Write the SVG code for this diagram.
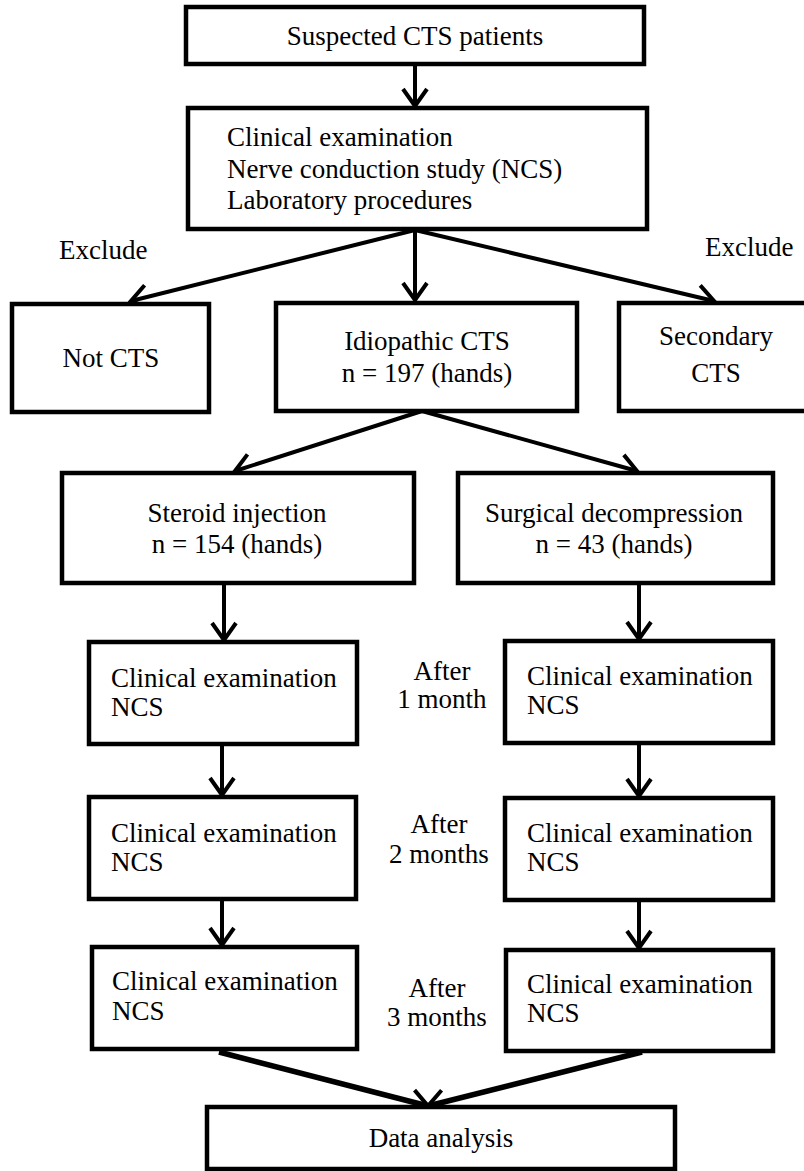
<svg xmlns="http://www.w3.org/2000/svg" width="804" height="1171" viewBox="0 0 804 1171">
<style>
.box{fill:#fff;stroke:#000;stroke-width:4.5}
.t{font-family:"Liberation Serif","Times New Roman",serif;font-size:27px;fill:#000}
.c{text-anchor:middle}
.con{stroke:#000;stroke-width:4;fill:none}
.thick{stroke-width:5.5}
</style>
<defs>
<marker id="ah" viewBox="-20 -15 24 30" refX="0" refY="0" markerWidth="24" markerHeight="30" markerUnits="userSpaceOnUse" orient="auto">
<path d="M-17,-12 L0,0 L-17,12" fill="none" stroke="#000" stroke-width="4" stroke-linejoin="miter"/>
</marker>
</defs>
<rect width="804" height="1171" fill="#fff"/>
<g id="connectors">
<line class="con" x1="415" y1="64" x2="415" y2="106" marker-end="url(#ah)"/>
<line class="con" x1="415" y1="230" x2="131" y2="301" marker-end="url(#ah)"/>
<line class="con" x1="415" y1="230" x2="415" y2="300" marker-end="url(#ah)"/>
<line class="con" x1="415" y1="230" x2="714" y2="301" marker-end="url(#ah)"/>
<line class="con" x1="422" y1="411" x2="235" y2="471" marker-end="url(#ah)"/>
<line class="con" x1="422" y1="411" x2="637" y2="471" marker-end="url(#ah)"/>
<line class="con" x1="224" y1="583" x2="224" y2="640" marker-end="url(#ah)"/>
<line class="con" x1="639" y1="583" x2="639" y2="639" marker-end="url(#ah)"/>
<line class="con" x1="222" y1="744" x2="222" y2="795" marker-end="url(#ah)"/>
<line class="con" x1="639" y1="743" x2="639" y2="796" marker-end="url(#ah)"/>
<line class="con" x1="222" y1="899" x2="222" y2="945" marker-end="url(#ah)"/>
<line class="con" x1="639" y1="900" x2="639" y2="948" marker-end="url(#ah)"/>
<line class="con thick" x1="219" y1="1052" x2="428" y2="1106" marker-end="url(#ah)"/>
<line class="con thick" x1="642" y1="1052" x2="428" y2="1106" marker-end="url(#ah)"/>
</g>
<g id="n1"><rect class="box" x="186" y="7" width="458" height="57"/><text class="t c" x="415" y="45">Suspected CTS patients</text></g>
<g id="n2"><rect class="box" x="188" y="108" width="459" height="121"/>
<text class="t" x="227" y="146">Clinical examination</text>
<text class="t" x="227" y="178">Nerve conduction study (NCS)</text>
<text class="t" x="227" y="209">Laboratory procedures</text></g>
<g id="lblExcludeL"><text class="t" x="59" y="259">Exclude</text></g>
<g id="lblExcludeR"><text class="t" x="705" y="256">Exclude</text></g>
<g id="n3"><rect class="box" x="12" y="304" width="197" height="108"/><text class="t c" x="111" y="367">Not CTS</text></g>
<g id="n4"><rect class="box" x="276" y="303" width="301" height="108"/><text class="t c" x="427" y="350">Idiopathic CTS</text><text class="t c" x="427" y="382">n = 197 (hands)</text></g>
<g id="n5"><rect class="box" x="619" y="303" width="200" height="108"/><text class="t c" x="716" y="345">Secondary</text><text class="t c" x="716" y="382">CTS</text></g>
<g id="n6"><rect class="box" x="62" y="473" width="352" height="110"/><text class="t c" x="237" y="522">Steroid injection</text><text class="t c" x="237" y="553">n = 154 (hands)</text></g>
<g id="n7"><rect class="box" x="458" y="473" width="315" height="110"/><text class="t c" x="614" y="522">Surgical decompression</text><text class="t c" x="614" y="553">n = 43 (hands)</text></g>
<g id="n8"><rect class="box" x="89" y="642" width="268" height="102"/><text class="t" x="111" y="687">Clinical examination</text><text class="t" x="111" y="716">NCS</text></g>
<g id="n9"><rect class="box" x="505" y="641" width="268" height="102"/><text class="t" x="527" y="685">Clinical examination</text><text class="t" x="527" y="714">NCS</text></g>
<g id="lbl1"><text class="t c" x="442" y="680">After</text><text class="t c" x="442" y="708">1 month</text></g>
<g id="n10"><rect class="box" x="89" y="797" width="267" height="102"/><text class="t" x="111" y="842">Clinical examination</text><text class="t" x="111" y="871">NCS</text></g>
<g id="n11"><rect class="box" x="505" y="798" width="268" height="102"/><text class="t" x="527" y="842">Clinical examination</text><text class="t" x="527" y="871">NCS</text></g>
<g id="lbl2"><text class="t c" x="439" y="833">After</text><text class="t c" x="439" y="863">2 months</text></g>
<g id="n12"><rect class="box" x="92" y="947" width="265" height="102"/><text class="t" x="112" y="990">Clinical examination</text><text class="t" x="112" y="1020">NCS</text></g>
<g id="n13"><rect class="box" x="506" y="950" width="267" height="101"/><text class="t" x="527" y="993">Clinical examination</text><text class="t" x="527" y="1022">NCS</text></g>
<g id="lbl3"><text class="t c" x="437" y="997">After</text><text class="t c" x="437" y="1026">3 months</text></g>
<g id="n14"><rect class="box" x="207" y="1107" width="468" height="62"/><text class="t c" x="441" y="1147">Data analysis</text></g>
</svg>
